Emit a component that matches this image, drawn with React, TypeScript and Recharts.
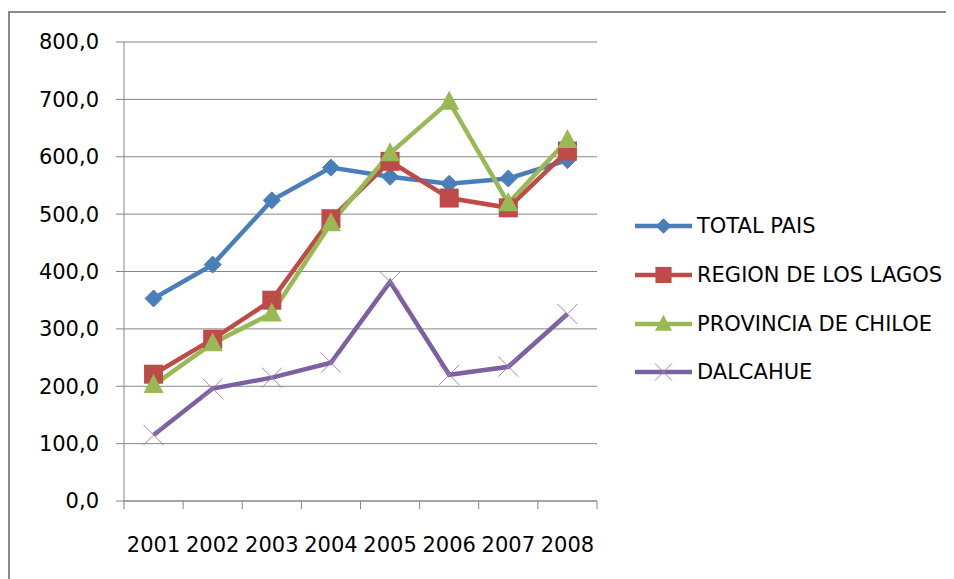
import React from 'react';
import { LineChart, Line, XAxis, YAxis, CartesianGrid } from 'recharts';

const years = ['2001', '2002', '2003', '2004', '2005', '2006', '2007', '2008'];
const totalPais = [353, 412, 524, 581, 565, 553, 562, 594];
const regionLagos = [221, 282, 350, 492, 592, 528, 511, 610];
const provChiloe = [202, 275, 327, 484, 606, 696, 519, 629];
const dalcahue = [115, 196, 215, 241, 382, 220, 234, 326];
const yTicks = [0, 100, 200, 300, 400, 500, 600, 700, 800];

const seriesNames = ['TOTAL PAIS', 'REGION DE LOS LAGOS', 'PROVINCIA DE CHILOE', 'DALCAHUE'];

const data = years.map((y, i) => ({
  x: i + 1,
  year: y,
  total: totalPais[i],
  region: regionLagos[i],
  provincia: provChiloe[i],
  dalcahue: dalcahue[i],
}));

const W = 946;
const H = 571;
const PLOT_LEFT = 116;
const PLOT_W = 473;
const HALF_BAND = PLOT_W / years.length / 2;
const FONT = '"DejaVu Sans", sans-serif';
const GRID = '#868686';

type Shape = 'diamond' | 'square' | 'triangle' | 'x';

function marker(shape: Shape, cx: number, cy: number, color: string, s: number, key?: any) {
  if (shape === 'diamond') {
    const r = s / 2;
    return (
      <path key={key} d={`M${cx},${cy - r}L${cx + r},${cy}L${cx},${cy + r}L${cx - r},${cy}Z`} fill={color} stroke={color} strokeWidth={1} />
    );
  }
  if (shape === 'square') {
    const r = s / 2;
    return <rect key={key} x={cx - r} y={cy - r} width={s} height={s} fill={color} />;
  }
  if (shape === 'triangle') {
    const r = s / 2;
    return (
      <path key={key} d={`M${cx},${cy - r * 1.1}L${cx + r},${cy + r * 0.8}L${cx - r},${cy + r * 0.8}Z`} fill={color} />
    );
  }
  const r = s / 2;
  return (
    <path key={key} d={`M${cx - r},${cy - r}L${cx + r},${cy + r}M${cx + r},${cy - r}L${cx - r},${cy + r}`} stroke="#9c85c0" strokeWidth={1} fill="none" />
  );
}

const series = [
  { key: 'total', name: seriesNames[0], color: '#4a7ebb', shape: 'diamond' as Shape, size: 17 },
  { key: 'region', name: seriesNames[1], color: '#be4b48', shape: 'square' as Shape, size: 19 },
  { key: 'provincia', name: seriesNames[2], color: '#98b954', shape: 'triangle' as Shape, size: 20 },
  { key: 'dalcahue', name: seriesNames[3], color: '#7d60a0', shape: 'x' as Shape, size: 20 },
];

const XTick = (props: any) => {
  const { x, y, payload } = props;
  const idx = Math.round(payload.value - 0.5);
  if (idx < 0 || idx >= years.length) return <g />;
  return (
    <text x={x + HALF_BAND} y={y} dy="0.71em" textAnchor="middle" fill="#000" fontSize={21} fontFamily={FONT}>
      {years[idx]}
    </text>
  );
};

export default function App() {
  return (
    <div style={{ position: 'relative', width: W, height: H, background: '#fff' }}>
      <div style={{ position: 'absolute', left: 0, top: 3, width: W, height: 2, background: '#8a8a8a' }} />
      <div style={{ position: 'absolute', left: 0, top: 3, width: 2, height: H - 3, background: '#8a8a8a' }} />
      <LineChart
        width={W}
        height={H}
        data={data}
        margin={{ top: 34, right: W - PLOT_LEFT - PLOT_W, bottom: 38, left: 0 }}
      >
        <CartesianGrid vertical={false} stroke={GRID} strokeWidth={1} />
        <XAxis
          type="number"
          dataKey="x"
          domain={[0.5, 8.5]}
          ticks={[0.5, 1.5, 2.5, 3.5, 4.5, 5.5, 6.5, 7.5, 8.5]}
          interval={0}
          height={40}
          stroke={GRID}
          tickSize={8}
          tickMargin={28}
          tick={<XTick />}
        />
        <YAxis
          domain={[0, 800]}
          ticks={yTicks}
          interval={0}
          width={PLOT_LEFT}
          stroke={GRID}
          tickSize={8}
          tickMargin={17}
          tick={{ fill: '#000', fontSize: 21, fontFamily: FONT }}
          tickFormatter={(v: number) => v.toFixed(1).replace('.', ',')}
        />
        {series.map((s) => (
          <Line
            key={s.key}
            dataKey={s.key}
            name={s.name}
            stroke={s.color}
            strokeWidth={4.5}
            isAnimationActive={false}
            activeDot={false}
            dot={(p: any) => marker(s.shape, p.cx, p.cy, s.color, s.size, `${s.key}-${p.index}`)}
          />
        ))}
      </LineChart>
      <div style={{ position: 'absolute', left: 627, top: 194, fontFamily: FONT, fontSize: 21, color: '#000' }}>
        {series.map((s) => (
          <div key={s.key} style={{ height: 48.7, display: 'flex', alignItems: 'center', whiteSpace: 'nowrap' }}>
            <svg width={62} height={24} style={{ display: 'block' }}>
              <line x1={0} y1={12} x2={57} y2={12} stroke={s.color} strokeWidth={4.5} />
              {marker(s.shape, 28.5, 12, s.color, s.size * 0.85)}
            </svg>
            <span>{s.name}</span>
          </div>
        ))}
      </div>
    </div>
  );
}
